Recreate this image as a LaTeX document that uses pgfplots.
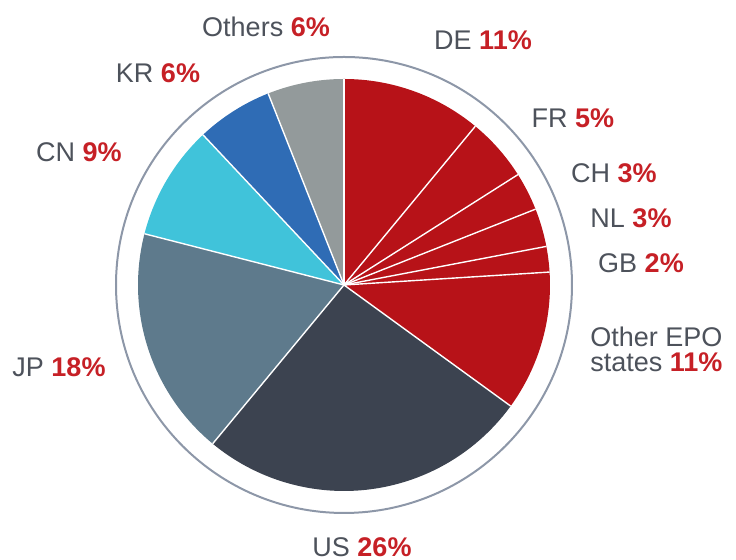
\documentclass[border=0pt]{standalone}
\usepackage{pgfplots}
\pgfplotsset{compat=1.18}
\usepackage{pgfplotstable}
\usepackage{fontspec}
\setmainfont{Liberation Sans}
\definecolor{cred}{HTML}{B71218}
\definecolor{cus}{HTML}{3C4350}
\definecolor{cjp}{HTML}{5E7A8C}
\definecolor{ccn}{HTML}{40C3DA}
\definecolor{ckr}{HTML}{2F6CB5}
\definecolor{coth}{HTML}{939A9B}
\definecolor{ringc}{HTML}{8D97A8}
\definecolor{lblgrey}{HTML}{4D525B}
\definecolor{lblred}{HTML}{C62026}
\pgfplotstableread{
pct col
11 cred
5 cred
3 cred
3 cred
2 cred
11 cred
26 cus
18 cjp
9 ccn
6 ckr
6 coth
}\piedata
\newcommand{\lbl}[2]{\textcolor{lblgrey}{#1} \textcolor{lblred}{\bfseries #2}}
\tikzset{lab/.style={font=\fontsize{13.5}{15}\selectfont, inner sep=0pt}}
\begin{document}
\begin{tikzpicture}
\begin{axis}[
  x=0.5pt, y=0.5pt,
  xmin=-344, xmax=392, ymin=-275, ymax=285,
  hide axis, clip=false,
]
\path (axis cs:-344,-275) rectangle (axis cs:392,285);
\xdef\angacc{90}
\pgfplotsinvokeforeach{0,...,10}{
  \pgfplotstablegetelem{#1}{pct}\of\piedata
  \let\p\pgfplotsretval
  \pgfplotstablegetelem{#1}{col}\of\piedata
  \let\c\pgfplotsretval
  \pgfmathsetmacro\a{\angacc-3.6*\p}
  \edef\tmp{\noexpand\fill[\c] (axis cs:0,0) -- ++(\angacc:103pt) arc[start angle=\angacc, end angle=\a, radius=103pt] -- cycle;}
  \tmp
  \xdef\angacc{\a}
}
\xdef\angacc{90}
\pgfplotsinvokeforeach{0,...,10}{
  \pgfplotstablegetelem{#1}{pct}\of\piedata
  \let\p\pgfplotsretval
  \edef\tmp{\noexpand\draw[white, line width=0.7pt] (axis cs:0,0) -- ++(\angacc:103pt);}
  \tmp
  \pgfmathsetmacro\a{\angacc-3.6*\p}
  \xdef\angacc{\a}
}
\draw[ringc, line width=1pt] (axis cs:0,0) circle[radius=114pt];
\node[lab] at (axis cs:-78,258) {\lbl{Others}{6\%}};
\node[lab] at (axis cs:139,245) {\lbl{DE}{11\%}};
\node[lab] at (axis cs:229,167) {\lbl{FR}{5\%}};
\node[lab] at (axis cs:270,112) {\lbl{CH}{3\%}};
\node[lab] at (axis cs:287,67) {\lbl{NL}{3\%}};
\node[lab] at (axis cs:297,22) {\lbl{GB}{2\%}};
\node[lab, anchor=west, align=left, font=\fontsize{13.5}{12.5}\selectfont] at (axis cs:246,-64.5) {\textcolor{lblgrey}{Other EPO}\\\textcolor{lblgrey}{states} \textcolor{lblred}{\bfseries 11\%}};
\node[lab] at (axis cs:18,-262) {\lbl{US}{26\%}};
\node[lab] at (axis cs:-285,-82) {\lbl{JP}{18\%}};
\node[lab] at (axis cs:-265,133) {\lbl{CN}{9\%}};
\node[lab] at (axis cs:-186,212) {\lbl{KR}{6\%}};
\end{axis}
\end{tikzpicture}
\end{document}
